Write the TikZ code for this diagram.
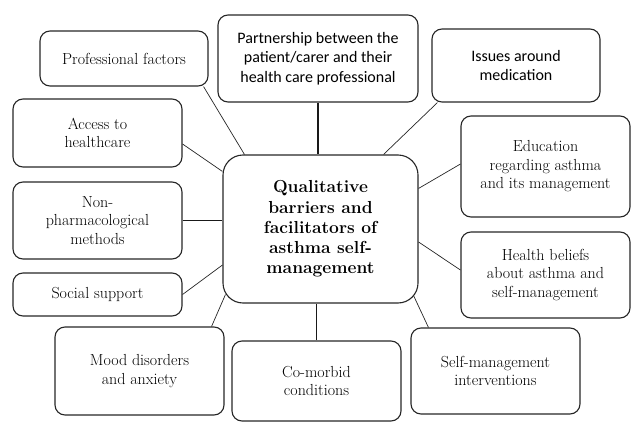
\documentclass[tikz,border=0pt]{standalone}
\usepackage{fontspec}
\setsansfont{Carlito}

\begin{document}
\begin{tikzpicture}[x=1pt,y=-1pt]
		\tikzstyle{every node}+=[inner sep=0pt]
		\tikzstyle{theme}=[draw=black!85, line width=1.1pt, rounded corners=10pt, minimum width=169pt, align=center, font=\fontsize{16}{18.5}\selectfont]
		\tikzstyle{themesf}=[theme, font=\sffamily\fontsize{16}{19.5}\selectfont]
		\tikzstyle{thin}=[draw=black!85, line width=0.7pt]
		\tikzstyle{thick}=[draw=black!90, line width=1.6pt]
		\useasboundingbox (0,0) rectangle (632,423);
		\node [draw=black!85, line width=1.1pt, rounded corners=20pt, minimum width=195pt, minimum height=148pt, align=center, font=\bfseries\fontsize{17.4}{20.3}\selectfont] (qual) at (320.5,229) {Qualitative\\barriers and\\facilitators of\\asthma self-\\management};
		\node [theme, minimum width=168pt, minimum height=55pt] (prof) at (124,58.5) {Professional factors};
		\node [themesf, minimum width=200pt, minimum height=87pt] (part) at (318,58.5) {Partnership between the\\patient/carer and their\\health care professional};
		\node [themesf, minimum width=168pt, minimum height=73pt] (issues) at (516,65.5) {Issues around\\medication};
		\node [theme, minimum height=101pt] (edu) at (545.5,166.5) {Education\\regarding asthma\\and its management};
		\node [theme, minimum height=68pt] (access) at (97.5,133) {Access to\\healthcare};
		\node [theme, minimum height=77pt] (nonph) at (97.5,220.5) {Non-\\pharmacological\\methods};
		\node [theme, minimum height=43pt] (social) at (97.5,294.5) {Social support};
		\node [theme, minimum height=88pt] (mood) at (139.5,371) {Mood disorders\\and anxiety};
		\node [theme, minimum height=80pt] (comorb) at (316.5,381) {Co-morbid\\conditions};
		\node [theme, minimum height=86pt] (selfm) at (495.5,371) {Self-management\\interventions};
		\node [theme, minimum height=86pt] (health) at (545.5,275) {Health beliefs\\about asthma and\\self-management};
		\draw [thick] (part.south) -- (part.south |- qual.north);
		\draw [thick] (comorb.north) -- (comorb.north |- qual.south);
		\draw [thick] (nonph.east) -- (nonph.east -| qual.west);
		\draw [thin] ([xshift=-5pt]prof.south east) -- ([xshift=22pt]qual.north west);
		\draw [thin] ([yshift=-11pt]access.east) -- ([yshift=-17pt]qual.north west);
		\draw [thin] ([xshift=6pt]issues.south west) -- ([xshift=-35pt]qual.north east);
		\draw [thin] ([yshift=2.5pt]edu.west) -- ([yshift=-34pt]qual.north east);
		\draw [thin] (social.east) -- ([yshift=-36pt]qual.west);
		\draw [thin] ([xshift=-13pt]mood.north east) -- ([shift={(3pt,9pt)}]qual.south west);
		\draw [thin] ([xshift=18pt]selfm.north west) -- ([shift={(-5pt,8pt)}]qual.south east);
		\draw [thin] ([yshift=5pt]health.west) -- ([yshift=-13pt]qual.east);
	\end{tikzpicture}
\end{document}
